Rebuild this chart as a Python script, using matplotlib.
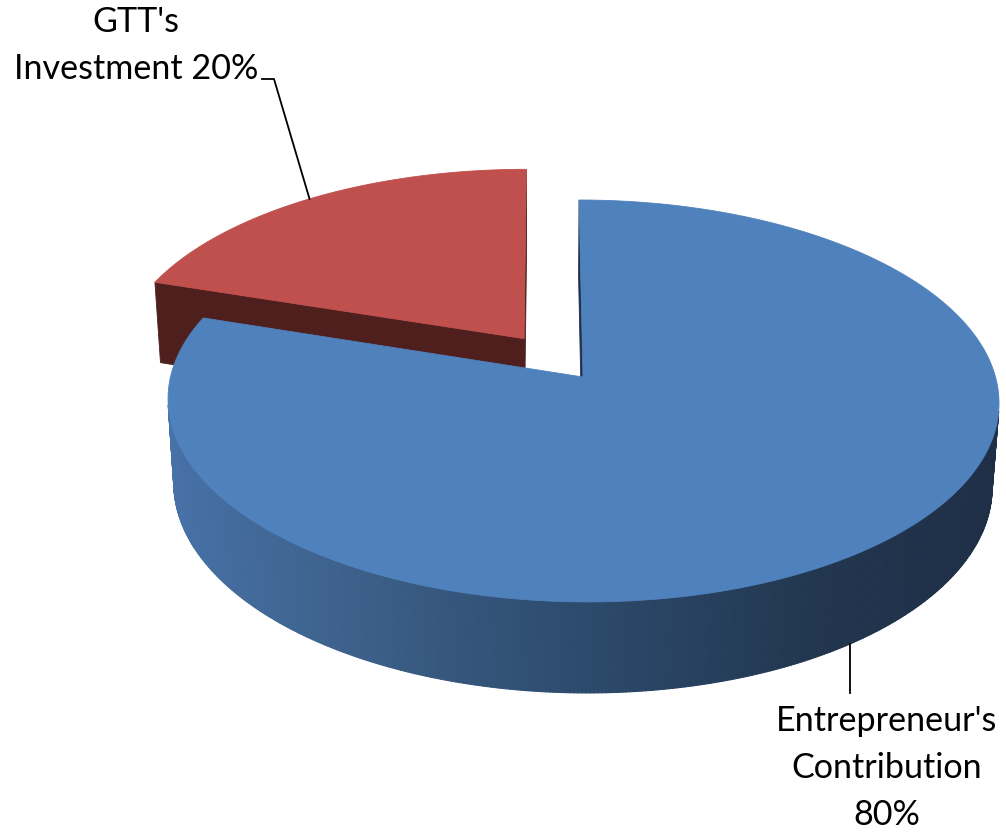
import numpy as np
import matplotlib.pyplot as plt
from matplotlib.collections import PolyCollection
from matplotlib.colors import to_rgb

# --- data ---
labels = ["Entrepreneur's\nContribution\n80%", "GTT's\nInvestment 20%"]
values = [80, 20]
explode = [0.0, 0.245]

top_colors = ["#4f81bd", "#c0504d"]
cut_colors = ["#1f3049", "#4f1f1e"]
# side shading of the blue wall, keyed on cos(theta) (left -> right)
side_stops = [(-1.0, "#4873aa"), (-0.5, "#3c6089"), (0.0, "#2c4a6c"),
              (0.5, "#22364f"), (1.0, "#1e2e46")]

# --- view / layout ---
W, H = 1006, 834
ELEV = np.radians(28.7)
DIST = 7.36
FOCAL = 3036.0
DEPTH = 0.235
CAM_X = -0.09
ORIGIN = (583.0, 377.0)   # pixel where the pie centre lands

ce, se = np.cos(ELEV), np.sin(ELEV)
cam = np.array([CAM_X, -DIST * ce, DIST * se])
x0 = ORIGIN[0] + CAM_X * FOCAL / DIST


def project(x, y, z):
    x, y, z = np.asarray(x, float), np.asarray(y, float), np.asarray(z, float)
    u = x - CAM_X
    v = z * ce + y * se
    w = y * ce - z * se
    k = FOCAL / (DIST + w)
    return x0 + u * k, ORIGIN[1] - v * k


def side_color(t):
    xs = [s[0] for s in side_stops]
    rgb = np.array([to_rgb(s[1]) for s in side_stops])
    c = np.cos(t)
    return tuple(np.interp(c, xs, rgb[:, i]) for i in range(3))


def quad(p0, p1, z0, z1):
    xs, ys = project([p0[0], p1[0], p1[0], p0[0]],
                     [p0[1], p1[1], p1[1], p0[1]],
                     [z0, z0, z1, z1])
    return np.column_stack([xs, ys])


# slice angles: first slice starts at 12 o'clock, going clockwise
frac = np.array(values, float) / sum(values)
ends = np.cumsum(frac)
starts = ends - frac
slices = []
for i in range(len(values)):
    t1 = np.pi / 2 - ends[i] * 2 * np.pi
    t2 = np.pi / 2 - starts[i] * 2 * np.pi
    mid = 0.5 * (t1 + t2)
    cx, cy = explode[i] * np.cos(mid), explode[i] * np.sin(mid)
    slices.append(dict(i=i, t1=t1, t2=t2, mid=mid, cx=cx, cy=cy))

fig = plt.figure(figsize=(W / 100, H / 100), dpi=100)
ax = fig.add_axes([0, 0, 1, 1])
ax.set_xlim(0, W)
ax.set_ylim(H, 0)
ax.axis("off")

# back to front
for s in sorted(slices, key=lambda d: -d["cy"]):
    i, t1, t2, cx, cy = s["i"], s["t1"], s["t2"], s["cx"], s["cy"]
    centre = np.array([cx, cy, 0.0])

    # radial cut faces
    for tt, n in ((t1, (np.sin(t1), -np.cos(t1))), (t2, (-np.sin(t2), np.cos(t2)))):
        if np.dot(cam - centre, [n[0], n[1], 0.0]) > 0:
            p = (cx + np.cos(tt), cy + np.sin(tt))
            poly = quad((cx, cy), p, 0.0, -DEPTH)
            ax.fill(poly[:, 0], poly[:, 1], color=cut_colors[i], lw=0.6)

    # outer wall
    t = np.linspace(t1, t2, int(abs(t2 - t1) / np.radians(0.5)) + 2)
    polys, cols = [], []
    for a, b in zip(t[:-1], t[1:]):
        m = 0.5 * (a + b)
        p = np.array([cx + np.cos(m), cy + np.sin(m), 0.0])
        if np.dot(cam - p, [np.cos(m), np.sin(m), 0.0]) <= 0:
            continue
        polys.append(quad((cx + np.cos(a), cy + np.sin(a)),
                          (cx + np.cos(b), cy + np.sin(b)), 0.0, -DEPTH))
        cols.append(side_color(m))
    if polys:
        ax.add_collection(PolyCollection(polys, facecolors=cols, edgecolors=cols,
                                         linewidths=0.8))

    # top face
    ts = np.linspace(t1, t2, 400)
    px, py = project(np.r_[cx, cx + np.cos(ts)], np.r_[cy, cy + np.sin(ts)],
                     np.zeros(len(ts) + 1))
    ax.fill(px, py, color=top_colors[i], lw=0.6)

# --- labels with leader lines (va="baseline" -> last line's baseline) ---
font = dict(family="Lato", fontsize=24.6, color="black", linespacing=1.57,
            multialignment="center")

s_red = slices[1]
rx, ry = project(s_red["cx"] + np.cos(s_red["mid"]), s_red["cy"] + np.sin(s_red["mid"]), 0.0)
ax.plot([rx, 274, 262], [ry, 79, 79], color="black", lw=1.3)
ax.text(136, 79, labels[1], ha="center", va="baseline", **font)

s_blue = slices[0]
bx, by = project(s_blue["cx"] + np.cos(s_blue["mid"]), s_blue["cy"] + np.sin(s_blue["mid"]), -DEPTH)
ax.plot([bx, bx], [by, 693], color="black", lw=1.3)
ax.text(887, 825, labels[0], ha="center", va="baseline", **font)

fig.savefig("out.png", dpi=100, facecolor="white")
